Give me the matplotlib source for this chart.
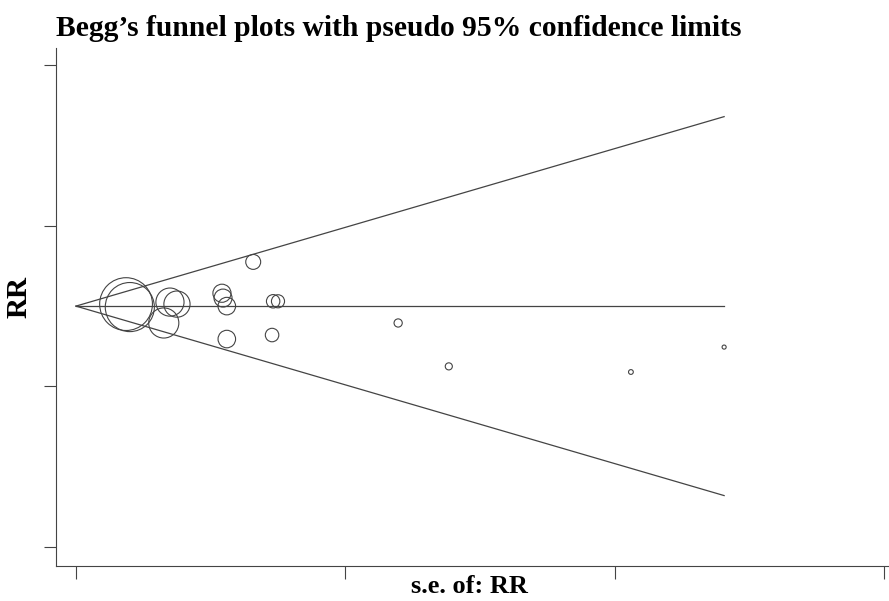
import numpy as np
import matplotlib
matplotlib.use("Agg")
import matplotlib.pyplot as plt

se = [0.093, 0.100, 0.1745, 0.1875, 0.163, 0.271, 0.273, 0.280, 0.280,
      0.329, 0.366, 0.375, 0.364, 0.598, 0.692, 1.030, 1.203]
log_rr = [0.025, -0.012, 0.05, 0.025, -0.21, 0.16, 0.10, 0.0, -0.41,
          0.55, 0.06, 0.06, -0.36, -0.21, -0.75, -0.82, -0.51]
pooled = 0.0
x_ticks = [0, 0.5, 1.0, 1.5]
y_ticks = [-3, -1, 1, 3]

se = np.array(se)
log_rr = np.array(log_rr)
weight = 1.0 / se**2

plt.rcParams['font.family'] = ['Liberation Serif', 'DejaVu Serif']

fig = plt.figure(figsize=(8.89, 6.01), dpi=100)
ax = fig.add_axes([0.063, 0.058, 0.937, 0.862])

# pseudo 95% limits
se_line = np.array([0, se.max()])
ax.plot(se_line, pooled + 1.96 * se_line, color='#444444', lw=0.9)
ax.plot(se_line, pooled - 1.96 * se_line, color='#444444', lw=0.9)
ax.plot(se_line, [pooled, pooled], color='#444444', lw=0.9)

# marker area proportional to study weight
ax.scatter(se, log_rr, s=weight * 12.5, facecolors='none',
           edgecolors='#444444', linewidths=0.8, zorder=3)

ax.set_xlim(-0.037, 1.509)
ax.set_ylim(-3.236, 3.211)
ax.set_xticks(x_ticks)
ax.set_yticks(y_ticks)
ax.set_xticklabels([])
ax.set_yticklabels([])
ax.tick_params(length=9, width=0.8, color='#444444')
for side in ['top', 'right']:
    ax.spines[side].set_visible(False)
for side in ['left', 'bottom']:
    ax.spines[side].set_color('#444444')
    ax.spines[side].set_linewidth(0.8)

fig.text(0.528, 0.014, 's.e. of: RR', fontsize=19, fontweight='bold',
         ha='center', va='baseline')
fig.text(0.022, 0.505, 'RR', fontsize=21, fontweight='bold', rotation=90,
         ha='center', va='center')
fig.text(0.063, 0.940, 'Begg\u2019s funnel plots with pseudo 95% confidence limits',
         fontsize=21.3, fontweight='bold', ha='left', va='baseline')

fig.savefig('out.png', dpi=100)
